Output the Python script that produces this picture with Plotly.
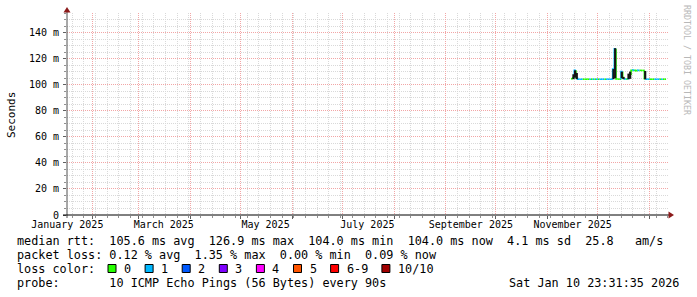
import plotly.graph_objects as go
import pandas as pd

# ---------------- data ----------------
start_day = "2025-11-15"
# daily median rtt in ms (Nov 15 2025 .. Jan 10 2026)
median_ms = [
    104.5, 105.0, 111.0, 105.5, 104.2, 104.2, 104.2, 104.2, 104.2, 104.2,   # Nov 15-24
    104.2, 104.2, 104.2, 104.2, 104.2, 104.2, 104.2, 104.2, 104.2, 104.2,   # Nov 25 - Dec 4
    104.2, 104.2, 104.2, 104.2, 104.2, 112.0, 127.5, 104.3, 104.2, 104.2,   # Dec 5-14
    110.0, 105.0, 104.3, 104.2, 104.5, 107.5, 111.0, 111.2, 111.0, 110.8,   # Dec 15-24
    111.0, 111.0, 110.9, 111.0, 104.5, 104.2, 104.2, 104.2, 104.2, 104.2,   # Dec 25 - Jan 3
    104.2, 104.2, 104.2, 104.2, 104.2, 104.2, 104.2,                         # Jan 4-10
]
# daily packet loss bin (pings lost out of 10)
loss_bin = [
    0, 0, 1, 0, 1, 1, 1, 0, 0, 0,
    0, 1, 0, 1, 0, 1, 0, 1, 1, 1,
    0, 1, 1, 1, 1, 1, 1, 0, 0, 0,
    1, 0, 1, 0, 1, 0, 0, 1, 0, 0,
    1, 0, 0, 0, 0, 1, 1, 0, 0, 0,
    1, 1, 1, 0, 1, 0, 0,
]
# smoke (spread of the pings) on the days where it is visible
smoke_days = ["2025-11-16", "2025-11-17", "2025-11-18", "2025-12-10", "2025-12-11",
              "2025-12-15", "2025-12-16", "2025-12-19", "2025-12-20", "2025-12-29"]
smoke_lo_ms = [104.2, 105.5, 104.2, 104.2, 105.0, 105.0, 104.2, 104.2, 104.5, 104.2]
smoke_hi_ms = [108.0, 111.0, 109.0, 112.0, 128.0, 110.0, 106.0, 108.5, 110.0, 110.5]

loss_labels = ["0", "1", "2", "3", "4", "5", "6-9", "10/10"]
loss_colors = ["#26ff00", "#00b8ff", "#0059ff", "#7e00ff", "#ff00ff", "#ff5500", "#ff0000", "#a10000"]

y_tickvals_ms = [0, 20, 40, 60, 80, 100, 120, 140]
y_ticktext = ["0", "20 m", "40 m", "60 m", "80 m", "100 m", "120 m", "140 m"]
x_label_dates = ["2025-01-17 04:00", "2025-03-16 00:00", "2025-05-16 00:00",
                 "2025-07-16 00:00", "2025-09-16 00:00", "2025-11-16 00:00"]
x_label_text = ["January 2025", "March 2025", "May 2025", "July 2025", "September 2025", "November 2025"]

x_range = ["2025-01-17 00:00", "2026-01-12 04:00"]
y_range_s = [0, 0.155]

text_rtt = "median rtt:  105.6 ms avg  126.9 ms max  104.0 ms min  104.0 ms now  4.1 ms sd  25.8   am/s"
text_loss = "packet loss: 0.12 % avg  1.35 % max  0.00 % min  0.09 % now"
text_probe = "probe:       10 ICMP Echo Pings (56 Bytes) every 90s"
text_stamp = "Sat Jan 10 23:31:35 2026"

# ---------------- layout geometry (pixels) ----------------
W, H = 697, 297
PL, PR, PT, PB = 67, 668, 13, 215
MONO = "DejaVu Sans Mono"


def px(xp):
    return (xp - PL) / (PR - PL)


def py(yp):
    return (PB - yp) / (PB - PT)


def nb(s):
    return s.replace(" ", "\u00a0")


dates = pd.date_range(start_day, periods=len(median_ms), freq="D")
one_day = pd.Timedelta(days=1)
half_day = pd.Timedelta(hours=12)
label_dates = [pd.Timestamp(d) for d in x_label_dates]

fig = go.Figure()

# median line coloured by loss
for ci, col in enumerate(loss_colors):
    xs, ys = [], []
    for i, d in enumerate(dates):
        if loss_bin[i] != ci:
            continue
        prev = median_ms[i - 1] if i > 0 else median_ms[i]
        xs += [d, d, d + one_day, None]
        ys += [prev / 1000, median_ms[i] / 1000, median_ms[i] / 1000, None]
    if xs:
        fig.add_trace(go.Scatter(x=xs, y=ys, mode="lines",
                                 line=dict(color=col, width=1.6),
                                 hoverinfo="skip", showlegend=False))

# smoke (spread of pings), drawn over the median line
sx, sy = [], []
for d, lo, hi in zip(smoke_days, smoke_lo_ms, smoke_hi_ms):
    t = pd.Timestamp(d) + half_day
    sx += [t, t, None]
    sy += [lo / 1000, hi / 1000, None]
fig.add_trace(go.Scatter(x=sx, y=sy, mode="lines",
                         line=dict(color="#151515", width=2.2),
                         hoverinfo="skip", showlegend=False))

# invisible trace carrying the month labels axis
fig.add_trace(go.Scatter(x=label_dates, y=[0] * len(label_dates),
                         xaxis="x2", mode="markers", marker=dict(opacity=0),
                         hoverinfo="skip", showlegend=False))

MAJ = "#f2a6a6"
MIN = "#d9d9d9"
DASH = "1px,1px"

fig.update_layout(
    width=W, height=H,
    margin=dict(l=PL, r=W - PR, t=PT, b=H - PB, autoexpand=False),
    paper_bgcolor="white", plot_bgcolor="white",
    showlegend=False,
    font=dict(family=MONO, color="#000000", size=10),
    xaxis=dict(
        type="date", range=x_range, tickmode="linear", tick0="2025-01-01", dtick="M1",
        showticklabels=False, showgrid=True, gridcolor=MAJ, griddash=DASH, gridwidth=1,
        ticks="outside", ticklen=3, tickcolor="#606060", showline=False, zeroline=False,
        minor=dict(tick0="2025-01-20", dtick=604800000, showgrid=True, gridcolor=MIN,
                   griddash=DASH, gridwidth=1, ticks="outside", ticklen=2, tickcolor="#909090"),
    ),
    xaxis2=dict(
        type="date", range=x_range, overlaying="x", anchor="y", side="bottom",
        tickmode="array", tickvals=label_dates, ticktext=x_label_text,
        showgrid=False, ticks="", zeroline=False, showline=False,
        tickfont=dict(family=MONO, size=10, color="#000000"), ticklabelstandoff=2,
    ),
    yaxis=dict(
        range=y_range_s, tickmode="array", tickvals=[v / 1000 for v in y_tickvals_ms],
        ticktext=y_ticktext, showgrid=True, gridcolor=MAJ, griddash=DASH, gridwidth=1,
        ticks="outside", ticklen=3, tickcolor="#606060", showline=False, zeroline=False,
        tickfont=dict(family=MONO, size=10, color="#000000"), ticklabelstandoff=2,
        minor=dict(tick0=0, dtick=0.005, showgrid=True, gridcolor=MIN, griddash=DASH,
                   gridwidth=1, ticks="outside", ticklen=2, tickcolor="#909090"),
    ),
)

shapes = []
# axes
shapes.append(dict(type="line", xref="paper", yref="paper", x0=px(67), x1=px(67), y0=py(218), y1=py(11),
                   line=dict(color="#505050", width=1)))
shapes.append(dict(type="line", xref="paper", yref="paper", x0=px(63), x1=px(670), y0=py(215), y1=py(215),
                   line=dict(color="#000000", width=1)))
shapes.append(dict(type="path", xref="paper", yref="paper",
                   path=f"M {px(63.5)} {py(12.5)} L {px(70.5)} {py(12.5)} L {px(67)} {py(7)} Z",
                   fillcolor="#8b1a1a", line=dict(width=0)))
shapes.append(dict(type="path", xref="paper", yref="paper",
                   path=f"M {px(668.5)} {py(211.5)} L {px(668.5)} {py(218.5)} L {px(674)} {py(215)} Z",
                   fillcolor="#8b1a1a", line=dict(width=0)))

annotations = []
# y title
annotations.append(dict(text="Seconds", x=px(11), y=py(115), xref="paper", yref="paper",
                        textangle=-90, showarrow=False, xanchor="center", yanchor="middle",
                        font=dict(family=MONO, size=11, color="#000000")))
# watermark
annotations.append(dict(text=nb("RRDTOOL / TOBI OETIKER"), x=px(687), y=py(60), xref="paper", yref="paper",
                        textangle=90, showarrow=False, xanchor="center", yanchor="middle",
                        font=dict(family=MONO, size=8.3, color="#b8b8b8")))

TF = dict(family=MONO, size=11.8, color="#000000")
for txt, yy in [(text_rtt, 241), (text_loss, 255), (text_probe, 283)]:
    annotations.append(dict(text=nb(txt), x=px(15), y=py(yy), xref="paper", yref="paper",
                            showarrow=False, xanchor="left", yanchor="middle", font=TF))
annotations.append(dict(text=nb("loss color:"), x=px(15), y=py(268.5), xref="paper", yref="paper",
                        showarrow=False, xanchor="left", yanchor="middle", font=TF))
annotations.append(dict(text=nb(text_stamp), x=px(681), y=py(283), xref="paper", yref="paper",
                        showarrow=False, xanchor="right", yanchor="middle", font=TF))

# loss colour legend
cw = 7.1
bx = 108.0
for lab, col in zip(loss_labels, loss_colors):
    shapes.append(dict(type="rect", xref="paper", yref="paper",
                       x0=px(bx), x1=px(bx + 8), y0=py(264.5), y1=py(272.5),
                       fillcolor=col, line=dict(color="#000000", width=1)))
    lx = bx + 15
    annotations.append(dict(text=lab, x=px(lx - 1), y=py(268.5), xref="paper", yref="paper",
                            showarrow=False, xanchor="left", yanchor="middle", font=TF))
    bx = lx + len(lab) * cw + 15

fig.update_layout(shapes=shapes, annotations=annotations)
fig.write_html("out.html")
